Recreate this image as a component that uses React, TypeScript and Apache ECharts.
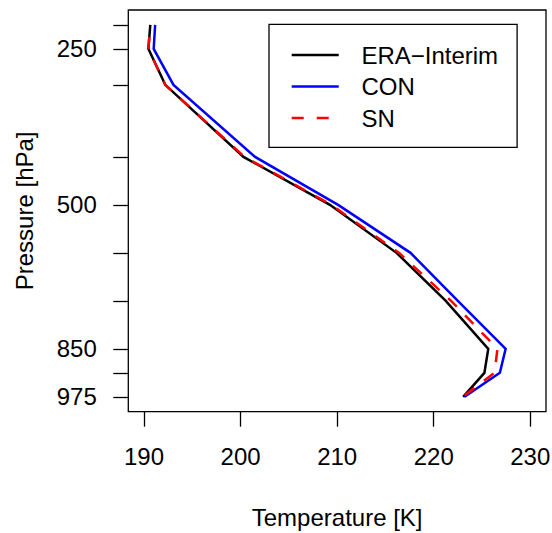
import React, { useEffect, useRef } from "react";
import * as echarts from "echarts";

// Vertical position of each plotted level (plot coordinate, top to bottom)
const levelCoord = [-15, -13, -10, -4, 0, 4, 8, 12, 14, 16];
// Labelled pressure levels and their vertical positions
const pressureLabels = [250, 500, 850, 975];
const pressureLabelCoord = [-13, 0, 12, 16];
// Temperature tick labels
const tempTicks = [190, 200, 210, 220, 230];

// Temperature profiles [K] at each level (top to bottom)
const eraInterim = [190.65, 190.45, 192.2, 200.3, 209.25, 216.15, 221.25, 225.65, 225.25, 223.05];
const con = [191.15, 191.0, 193.05, 201.5, 210.1, 217.6, 222.5, 227.45, 226.85, 223.2];
const sn = [190.65, 190.45, 192.2, 200.4, 209.4, 216.4, 221.8, 226.6, 226.3, 223.0];

const seriesNames = ["ERA\u2212Interim", "CON", "SN"];
const seriesColors = ["#000000", "#0000ff", "#ff0000"];
const legendIcons = [
  "path://M0,0H47V2.5H0Z",
  "path://M0,0H47V2.5H0Z",
  "path://M0,0H12V2.5H0Z M25,0H37V2.5H25Z M46.95,0H47V2.5H46.95Z",
];

const FONT = "'Liberation Sans', Arial, Helvetica, sans-serif";

function pairs(vals: number[]) {
  return vals.map((v, i) => [v, levelCoord[i]]);
}

export default function App() {
  const ref = useRef<HTMLDivElement>(null);
  useEffect(() => {
    if (!ref.current) return;
    const chart = echarts.init(ref.current, null, { renderer: "svg" });
    const profiles = [eraInterim, con, sn];
    chart.setOption({
      animation: false,
      backgroundColor: "#ffffff",
      textStyle: { fontFamily: FONT },
      grid: {
        left: 128.3,
        top: 10,
        right: 6,
        bottom: 121.3,
        containLabel: false,
        outerBoundsMode: "none",
        show: true,
        borderColor: "#000",
        borderWidth: 1.3,
        backgroundColor: "transparent",
      },
      legend: {
        orient: "vertical",
        left: 269,
        top: 24.3,
        itemWidth: 47,
        itemHeight: 2.5,
        itemGap: 7.5,
        symbolKeepAspect: false,
        borderColor: "#000",
        borderWidth: 1.3,
        padding: [18.7, 19, 17.3, 22.7],
        textStyle: {
          fontFamily: FONT,
          fontSize: 24,
          color: "#000",
          lineHeight: 24,
          padding: [0, 0, 0, 17.7],
        },
        data: seriesNames.map((n, i) => ({ name: n, icon: legendIcons[i] })),
      },
      xAxis: {
        type: "value",
        min: 188.37,
        max: 231.63,
        name: "Temperature [K]",
        nameLocation: "middle",
        nameGap: 94,
        nameTextStyle: { fontFamily: FONT, fontSize: 24, color: "#000" },
        axisLine: { show: false, onZero: false },
        axisTick: {
          show: true,
          inside: false,
          length: 15,
          customValues: tempTicks,
          lineStyle: { color: "#000", width: 1.3 },
        },
        axisLabel: {
          customValues: tempTicks,
          fontFamily: FONT,
          fontSize: 24,
          color: "#000",
          margin: 33,
        },
        splitLine: { show: false },
      },
      yAxis: {
        type: "value",
        inverse: true,
        min: -16.24,
        max: 17.24,
        name: "Pressure [hPa]",
        nameLocation: "middle",
        nameGap: 92,
        nameTextStyle: { fontFamily: FONT, fontSize: 24, color: "#000" },
        axisLine: { show: false, onZero: false },
        axisTick: {
          show: true,
          inside: false,
          length: 15,
          customValues: levelCoord,
          lineStyle: { color: "#000", width: 1.3 },
        },
        axisLabel: {
          customValues: pressureLabelCoord,
          formatter: (v: number) => {
            const i = pressureLabelCoord.indexOf(v);
            return i >= 0 ? String(pressureLabels[i]) : "";
          },
          fontFamily: FONT,
          fontSize: 24,
          color: "#000",
          margin: 31.5,
        },
        splitLine: { show: false },
      },
      series: profiles.map((p, i) => ({
        name: seriesNames[i],
        type: "line",
        data: pairs(p),
        symbol: "none",
        showSymbol: false,
        color: seriesColors[i],
        itemStyle: { color: seriesColors[i] },
        lineStyle: {
          color: seriesColors[i],
          width: 2.5,
          type: i === 2 ? [12, 12] : "solid",
          dashOffset: i === 2 ? 12 : 0,
          cap: "butt",
          join: "miter",
        },
        z: 2 + i,
      })),
    });
    return () => chart.dispose();
  }, []);
  return (
    <div
      ref={ref}
      style={{ position: "absolute", left: 0, top: 0, width: 552, height: 533 }}
    />
  );
}
